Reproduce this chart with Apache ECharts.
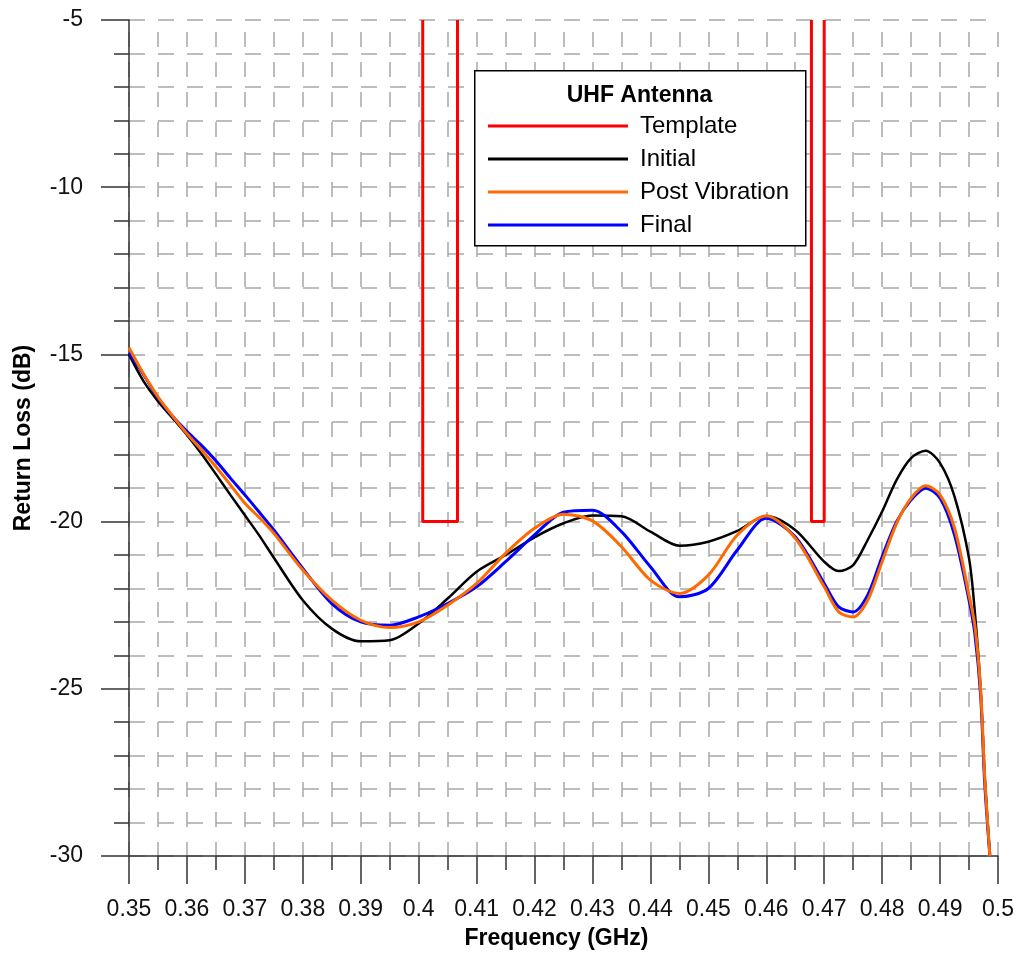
<!DOCTYPE html>
<html>
<head>
<meta charset="utf-8">
<script src="https://cdn.jsdelivr.net/npm/echarts@6/dist/echarts.min.js"></script>
<style>
html,body{margin:0;padding:0;background:#fff;overflow:hidden;}
#c{width:1021px;height:955px;}
</style>
</head>
<body>
<div id="c"></div>
<script>
var freq = [0.350, 0.3525, 0.355, 0.3575, 0.360, 0.3625, 0.365, 0.3675, 0.370, 0.3725, 0.375, 0.380, 0.385, 0.390, 0.395, 0.400, 0.405, 0.410, 0.415, 0.420, 0.425, 0.430, 0.435, 0.440, 0.445, 0.450, 0.455, 0.460, 0.465, 0.470, 0.4725, 0.475, 0.4775, 0.480, 0.4825, 0.485, 0.4875, 0.490, 0.4925, 0.495, 0.496, 0.497, 0.4977, 0.4986];

var initial = [-15.0, -15.8, -16.4, -16.9, -17.41, -17.97, -18.58, -19.2, -19.81, -20.42, -21.08, -22.35, -23.2, -23.58, -23.55, -23.05, -22.3, -21.5, -21.0, -20.47, -20.05, -19.82, -19.84, -20.3, -20.72, -20.6, -20.28, -19.83, -20.25, -21.2, -21.48, -21.3, -20.55, -19.7, -18.75, -18.1, -17.88, -18.25, -19.25, -21.1, -22.7, -25.0, -27.6, -30.0];

var postVibration = [-14.8, -15.58, -16.27, -16.84, -17.37, -17.85, -18.36, -18.9, -19.45, -19.88, -20.35, -21.45, -22.35, -22.95, -23.17, -23.0, -22.5, -21.85, -20.95, -20.2, -19.78, -19.98, -20.75, -21.75, -22.15, -21.6, -20.4, -19.83, -20.5, -21.95, -22.7, -22.85, -22.35, -21.2, -20.05, -19.3, -18.93, -19.2, -20.2, -22.2, -23.1, -25.0, -27.6, -30.0];

var finalRun = [-14.95, -15.6, -16.3, -16.85, -17.3, -17.72, -18.18, -18.7, -19.2, -19.72, -20.25, -21.4, -22.45, -23.0, -23.1, -22.85, -22.45, -21.95, -21.2, -20.4, -19.72, -19.66, -20.3, -21.35, -22.25, -22.0, -20.85, -19.9, -20.45, -21.85, -22.55, -22.7, -22.2, -21.05, -20.0, -19.35, -19.0, -19.3, -20.4, -22.35, -23.35, -25.2, -27.8, -30.0];

var templateA = [[0.4007, -5], [0.4007, -20], [0.4067, -20], [0.4067, -5]];
var templateB = [[0.4678, -5], [0.4678, -20], [0.4700, -20], [0.4700, -5]];

var xTicks = {min: 0.35, max: 0.5, interval: 0.01};
var yTicks = {min: -30, max: -5, interval: 5};

var legendTitle = 'UHF Antenna';
var seriesNames = ['Template', 'Initial', 'Post Vibration', 'Final'];

function pairs(xs, ys) {
  return xs.map(function (x, i) { return [x, ys[i]]; });
}

var FONT = "'Liberation Sans', Arial, sans-serif";
var gridColor = '#a8a8a8';

var chart = echarts.init(document.getElementById('c'), null, {renderer: 'canvas'});

var option = {
  animation: false,
  backgroundColor: '#ffffff',
  grid: {left: 129, top: 20, width: 869, height: 840, containLabel: false},
  xAxis: {
    type: 'value',
    min: xTicks.min, max: xTicks.max, interval: xTicks.interval,
    name: 'Frequency (GHz)',
    nameLocation: 'middle',
    nameGap: 71,
    nameTextStyle: {fontFamily: FONT, fontSize: 23, fontWeight: 'bold', color: '#000', padding: [0, 14, 0, 0], verticalAlign: 'top'},
    axisLine: {show: true, onZero: false, lineStyle: {color: '#333', width: 1.5}},
    axisTick: {show: true, inside: false, length: 28, lineStyle: {color: '#333', width: 1.5}},
    minorTick: {show: true, splitNumber: 2, length: 14, lineStyle: {color: '#333', width: 1.5}},
    axisLabel: {fontFamily: FONT, fontSize: 23, color: '#111', margin: 42},
    splitLine: {show: true, lineStyle: {color: gridColor, width: 1.5, type: [15, 15], dashOffset: 18}},
    minorSplitLine: {show: true, lineStyle: {color: gridColor, width: 1.5, type: [15, 15], dashOffset: 18}}
  },
  yAxis: {
    type: 'value',
    min: yTicks.min, max: yTicks.max, interval: yTicks.interval,
    name: 'Return Loss (dB)',
    nameLocation: 'middle',
    nameGap: 94,
    nameTextStyle: {fontFamily: FONT, fontSize: 23, fontWeight: 'bold', color: '#000'},
    axisLine: {show: true, onZero: false, lineStyle: {color: '#333', width: 1.5}},
    axisTick: {show: true, inside: false, length: 28, lineStyle: {color: '#333', width: 1.5}},
    minorTick: {show: true, splitNumber: 5, length: 15, lineStyle: {color: '#333', width: 1.5}},
    axisLabel: {fontFamily: FONT, fontSize: 23, color: '#111', margin: 46},
    splitLine: {show: true, lineStyle: {color: gridColor, width: 1.5, type: [16, 13], dashOffset: 0}},
    minorSplitLine: {show: true, lineStyle: {color: gridColor, width: 1.5, type: [16, 13], dashOffset: 0}}
  },
  legend: {
    orient: 'vertical',
    left: 488,
    top: 114,
    z: 200,
    zlevel: 1,
    itemWidth: 140,
    itemHeight: 3,
    itemGap: 9,
    icon: 'rect',
    selectedMode: false,
    padding: 0,
    textStyle: {fontFamily: FONT, fontSize: 24, color: '#000', lineHeight: 24, padding: [0, 0, 0, 7]},
    data: seriesNames
  },
  graphic: [
    {
      type: 'rect', z: 90, zlevel: 1, left: 474, top: 70,
      shape: {width: 331, height: 175},
      style: {fill: '#ffffff', stroke: '#000000', lineWidth: 1.5}
    },
    {
      type: 'text', z: 91, zlevel: 1, x: 639.5, y: 84,
      style: {text: legendTitle, fill: '#000', fontSize: 23, fontWeight: 'bold', fontFamily: FONT, align: 'center', verticalAlign: 'top'}
    }
  ],
  series: [
    {
      name: seriesNames[0], type: 'line', data: templateA, showSymbol: false, z: 2,
      lineStyle: {color: '#ff0000', width: 3}, itemStyle: {color: '#ff0000'}
    },
    {
      name: seriesNames[0], type: 'line', data: templateB, showSymbol: false, z: 2,
      lineStyle: {color: '#ff0000', width: 3}, itemStyle: {color: '#ff0000'}
    },
    {
      name: seriesNames[1], type: 'line', data: pairs(freq, initial), showSymbol: false, smooth: 0.3, z: 3,
      lineStyle: {color: '#000000', width: 2.5}, itemStyle: {color: '#000000'}
    },
    {
      name: seriesNames[3], type: 'line', data: pairs(freq, finalRun), showSymbol: false, smooth: 0.3, z: 4,
      lineStyle: {color: '#0000ff', width: 3}, itemStyle: {color: '#0000ff'}
    },
    {
      name: seriesNames[2], type: 'line', data: pairs(freq, postVibration), showSymbol: false, smooth: 0.3, z: 5,
      lineStyle: {color: '#ff6a00', width: 3}, itemStyle: {color: '#ff6a00'}
    }
  ]
};
chart.setOption(option);
</script>
</body>
</html>
